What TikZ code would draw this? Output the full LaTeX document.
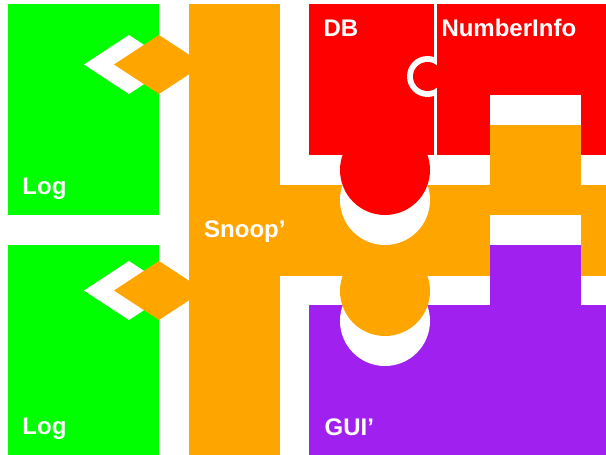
\documentclass[tikz,border=0pt]{standalone}
\usepackage{fontspec}
\setmainfont{Liberation Sans}
\definecolor{cgreen}{HTML}{00FF00}
\definecolor{corange}{HTML}{FFA500}
\definecolor{cred}{HTML}{FF0000}
\definecolor{cpurple}{HTML}{A020F0}
\begin{document}
\begin{tikzpicture}[x=1pt,y=-1pt,
  lbl/.style={anchor=base west,inner sep=0pt,text=white,font=\fontsize{24}{28}\selectfont\bfseries}]
\useasboundingbox (0,0) rectangle (606,455);
\fill[white] (0,0) rectangle (606,455);
% Log components
\fill[cgreen] (8,4) rectangle (159,215);
\fill[cgreen] (8,245) rectangle (159,455);
% Snoop' component
\fill[corange] (189,4) rectangle (280,455);
\fill[corange] (280,185) rectangle (606,276);
% sockets/knobs between Log and Snoop'
\fill[white] (84,64.5) -- (129,35) -- (174,64.5) -- (129,94) -- cycle;
\fill[corange] (114,64.5) -- (159,35) -- (204,64.5) -- (159,94) -- cycle;
\fill[white] (84,290.5) -- (129,261) -- (174,290.5) -- (129,320) -- cycle;
\fill[corange] (114,290.5) -- (159,261) -- (204,290.5) -- (159,320) -- cycle;
% socket in Snoop' for DB knob
\fill[white] (385,200) circle (45);
% socket in Snoop' for GUI tab
\fill[white] (490,215) rectangle (581,276);
% DB
\fill[cred] (309,4) rectangle (433.5,155);
\fill[cred] (385,170) circle (45);
\fill[white] (427.5,76.5) circle (20.5);
% NumberInfo
\fill[cred] (436.5,4) rectangle (606,155);
\fill[white] (490,95) rectangle (581,155);
\fill[cred] (427.5,76.5) circle (14.5);
% Snoop' tab into NumberInfo
\fill[corange] (490,125) rectangle (581,215);
% GUI'
\fill[cpurple] (309,305) rectangle (606,455);
\fill[cpurple] (490,245) rectangle (581,305);
\fill[white] (385,321) circle (45);
\fill[corange] (385,291) circle (45);
% labels
\node[lbl] (log1) at (22.3,194.3) {Log};
\node[lbl] (log2) at (22.3,434.5) {Log};
\node[lbl] (snoop) at (204,237) {Snoop’};
\node[lbl] (db) at (323.3,36) {DB};
\node[lbl] (numinfo) at (441.3,36) {NumberInfo};
\node[lbl] (gui) at (324.5,435) {GUI’};
\end{tikzpicture}
\end{document}
